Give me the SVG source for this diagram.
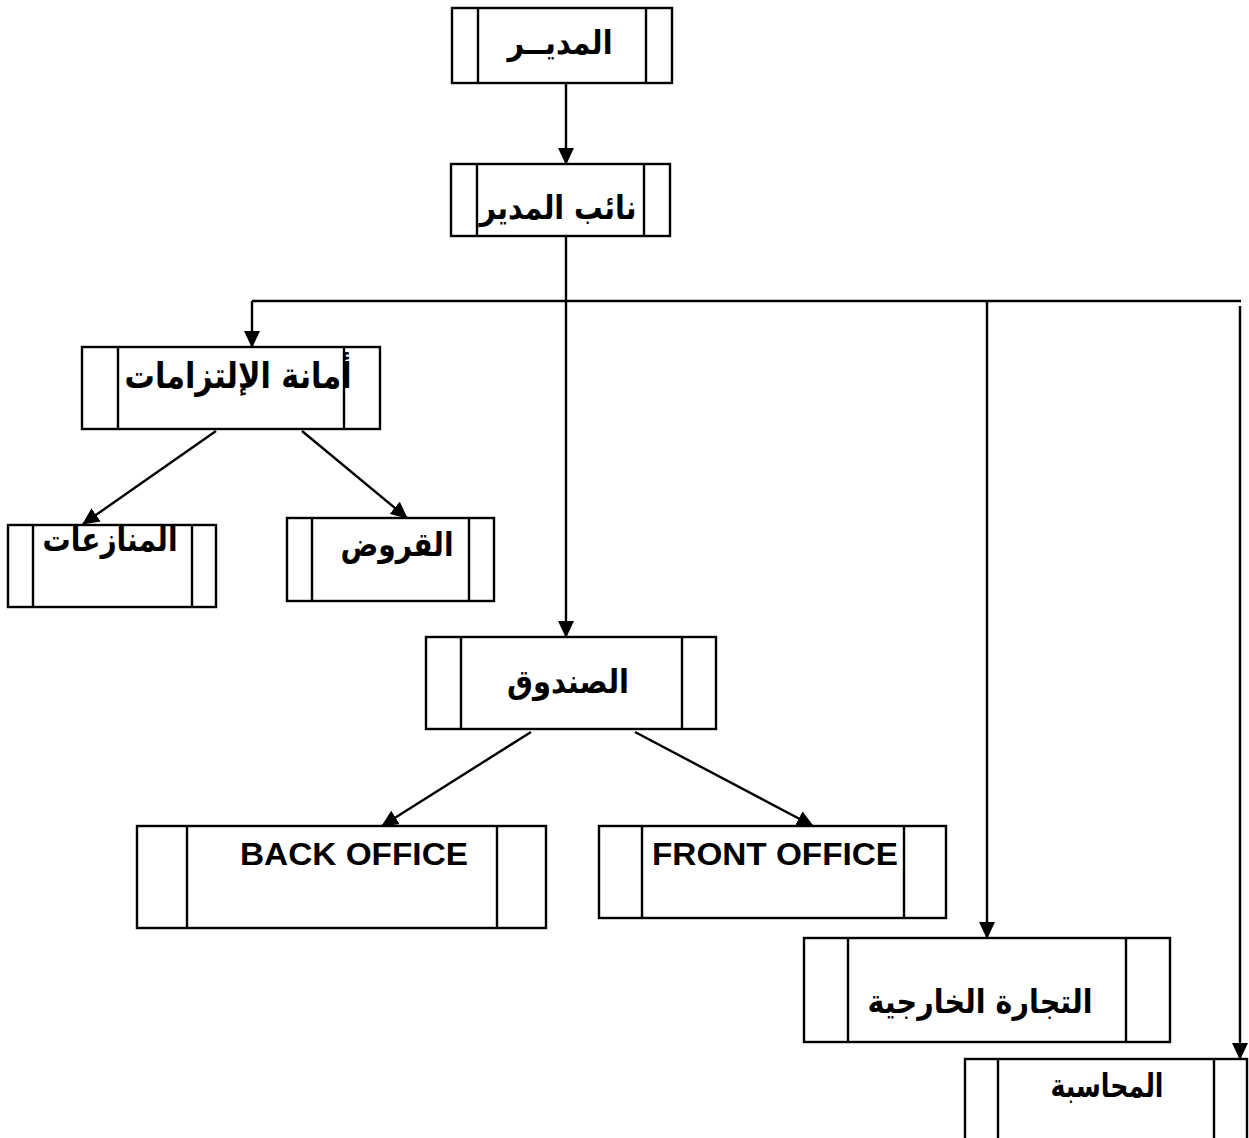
<svg xmlns="http://www.w3.org/2000/svg" width="1249" height="1138" viewBox="0 0 1249 1138">
<style>
.box{fill:#fff;stroke:#000;stroke-width:2.4}
.div{stroke:#000;stroke-width:2.4}
.ar{font-family:"DejaVu Sans",sans-serif;font-weight:bold;fill:#000;text-anchor:middle}
.en{font-family:"Liberation Sans",Arial,sans-serif;font-weight:bold;fill:#000}
.con{stroke:#000;stroke-width:2.4;fill:none}
</style>
<defs>
<marker id="ah" viewBox="0 0 17 16" markerWidth="17" markerHeight="16" refX="16" refY="8" orient="auto" markerUnits="userSpaceOnUse">
<path d="M0,0 L17,8 L0,16 z" fill="#000"/>
</marker>
</defs>
<g id="connectors">
<line class="con" x1="566" y1="83" x2="566" y2="164" marker-end="url(#ah)"/>
<line class="con" x1="566" y1="236" x2="566" y2="637" marker-end="url(#ah)"/>
<line class="con" x1="252" y1="301" x2="1241" y2="301"/>
<line class="con" x1="252" y1="301" x2="252" y2="347" marker-end="url(#ah)"/>
<line class="con" x1="987" y1="301" x2="987" y2="938" marker-end="url(#ah)"/>
<line class="con" x1="1240" y1="306" x2="1240" y2="1059" marker-end="url(#ah)"/>
<line class="con" x1="216" y1="431" x2="83" y2="524" marker-end="url(#ah)"/>
<line class="con" x1="302" y1="431" x2="407" y2="518" marker-end="url(#ah)"/>
<line class="con" x1="531" y1="732" x2="382" y2="826" marker-end="url(#ah)"/>
<line class="con" x1="635" y1="732" x2="813" y2="826" marker-end="url(#ah)"/>
</g>
<g id="n-director">
<rect class="box" x="452" y="8" width="220" height="75"/>
<line class="div" x1="478" y1="8" x2="478" y2="83"/>
<line class="div" x1="646" y1="8" x2="646" y2="83"/>
<text class="ar" x="560" y="54" font-size="33" textLength="105" lengthAdjust="spacingAndGlyphs">المديــر</text>
</g>
<g id="n-deputy">
<rect class="box" x="451" y="164" width="219" height="72"/>
<line class="div" x1="477" y1="164" x2="477" y2="236"/>
<line class="div" x1="644" y1="164" x2="644" y2="236"/>
<text class="ar" x="558" y="219" font-size="33" textLength="157" lengthAdjust="spacingAndGlyphs">نائب المدير</text>
</g>
<g id="n-commitments">
<rect class="box" x="82" y="347" width="298" height="82"/>
<line class="div" x1="118" y1="347" x2="118" y2="429"/>
<line class="div" x1="344" y1="347" x2="344" y2="429"/>
<text class="ar" x="238" y="388" font-size="36" textLength="227" lengthAdjust="spacingAndGlyphs">أمانة الإلتزامات</text>
</g>
<g id="n-disputes">
<rect class="box" x="8" y="525" width="208" height="82"/>
<line class="div" x1="33" y1="525" x2="33" y2="607"/>
<line class="div" x1="192" y1="525" x2="192" y2="607"/>
<text class="ar" x="110" y="551" font-size="33" textLength="135" lengthAdjust="spacingAndGlyphs">المنازعات</text>
</g>
<g id="n-loans">
<rect class="box" x="287" y="518" width="207" height="83"/>
<line class="div" x1="312" y1="518" x2="312" y2="601"/>
<line class="div" x1="469" y1="518" x2="469" y2="601"/>
<text class="ar" x="397" y="556" font-size="33" textLength="113" lengthAdjust="spacingAndGlyphs">القروض</text>
</g>
<g id="n-fund">
<rect class="box" x="426" y="637" width="290" height="92"/>
<line class="div" x1="461" y1="637" x2="461" y2="729"/>
<line class="div" x1="682" y1="637" x2="682" y2="729"/>
<text class="ar" x="568" y="693" font-size="33" textLength="122" lengthAdjust="spacingAndGlyphs">الصندوق</text>
</g>
<g id="n-back">
<rect class="box" x="137" y="826" width="409" height="102"/>
<line class="div" x1="187" y1="826" x2="187" y2="928"/>
<line class="div" x1="497" y1="826" x2="497" y2="928"/>
<text class="en" x="240" y="865" font-size="31" textLength="228" lengthAdjust="spacingAndGlyphs">BACK OFFICE</text>
</g>
<g id="n-front">
<rect class="box" x="599" y="826" width="347" height="92"/>
<line class="div" x1="642" y1="826" x2="642" y2="918"/>
<line class="div" x1="904" y1="826" x2="904" y2="918"/>
<text class="en" x="652" y="865" font-size="31" textLength="246" lengthAdjust="spacingAndGlyphs">FRONT OFFICE</text>
</g>
<g id="n-trade">
<rect class="box" x="804" y="938" width="366" height="104"/>
<line class="div" x1="848" y1="938" x2="848" y2="1042"/>
<line class="div" x1="1126" y1="938" x2="1126" y2="1042"/>
<text class="ar" x="980" y="1013" font-size="33" textLength="225" lengthAdjust="spacingAndGlyphs">التجارة الخارجية</text>
</g>
<g id="n-accounting">
<rect class="box" x="965" y="1059" width="282" height="100"/>
<line class="div" x1="998" y1="1059" x2="998" y2="1159"/>
<line class="div" x1="1214" y1="1059" x2="1214" y2="1159"/>
<text class="ar" x="1107" y="1097" font-size="33" textLength="113" lengthAdjust="spacingAndGlyphs">المحاسبة</text>
</g>
</svg>
